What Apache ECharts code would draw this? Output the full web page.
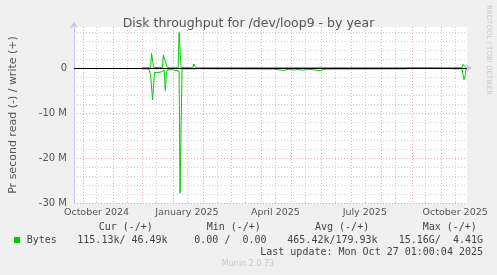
<!DOCTYPE html>
<html><head><meta charset="utf-8">
<script src="https://cdn.jsdelivr.net/npm/echarts@6/dist/echarts.min.js"></script>
<style>html,body{margin:0;padding:0;background:#f0f0f0}#c{width:497px;height:275px}</style>
</head><body><div id="c"></div>
<script>
// ---- data ----
const chartTitle = 'Disk throughput for /dev/loop9 - by year';
const yAxisTitle = 'Pr second read (-) / write (+)';
const endTimeStr = '2025-10-27T01:00:04Z';
const spanDays = 400;
const quarterLabels = ['October 2024', 'January 2025', 'April 2025', 'July 2025', 'October 2025'];
const quarterLabelDates = ['2024-10-15', '2025-01-15', '2025-04-15', '2025-07-15', '2025-10-15'];
const monthStarts = ['2024-10-01','2024-11-01','2024-12-01','2025-01-01','2025-02-01','2025-03-01','2025-04-01','2025-05-01','2025-06-01','2025-07-01','2025-08-01','2025-09-01','2025-10-01'];
const midMonths = ['2024-10-15','2024-11-15','2024-12-15','2025-01-15','2025-02-15','2025-03-15','2025-04-15','2025-05-15','2025-06-15','2025-07-15','2025-08-15','2025-09-15','2025-10-15'];
const yMajorTicks = [-30, -20, -10, 0];          // millions
const yMinorTicks = [-28,-26,-24,-22,-18,-16,-14,-12,-8,-6,-4,-2,2,4,6,8];
const yMin = -30, yMax = 9.1;                     // millions
// write (+), bytes/s in millions
const writeData = [
  ['2024-12-01', 0.05], ['2024-12-09', 0.05], ['2024-12-10', 3.3], ['2024-12-11', 3.3], ['2024-12-12', 0.1],
  ['2024-12-21', 0.1], ['2024-12-22', 2.9], ['2024-12-23', 2.5], ['2024-12-24', 1.4], ['2024-12-25', 0.8], ['2024-12-26', 0.05],
  ['2025-01-06', 0.05], ['2025-01-07', 7.9], ['2025-01-08', 7.9], ['2025-01-09', 0.1],
  ['2025-01-21', 0.05], ['2025-01-22', 0.9], ['2025-01-23', 0.8], ['2025-01-24', 0.05],
  ['2025-10-22', 0.05], ['2025-10-23', 0.8], ['2025-10-24', 1.0], ['2025-10-25', 0.3], ['2025-10-26', 0.05]
];
// read (-), bytes/s in millions
const readData = [
  ['2024-12-01', -0.2], ['2024-12-07', -0.2], ['2024-12-09', -1.5], ['2024-12-11', -7.1], ['2024-12-12', -6.8],
  ['2024-12-13', -1.0], ['2024-12-19', -0.95], ['2024-12-21', -0.6], ['2024-12-23', -0.5], ['2024-12-24', -5.0],
  ['2024-12-25', -1.5], ['2024-12-26', -0.4], ['2024-12-31', -0.4], ['2025-01-01', -0.7], ['2025-01-07', -0.7],
  ['2025-01-08', -27.8], ['2025-01-09', -27.8], ['2025-01-10', -0.2], ['2025-01-21', -0.2], ['2025-01-23', -0.5],
  ['2025-01-25', -0.15], ['2025-04-05', -0.25], ['2025-04-13', -0.25], ['2025-04-18', -0.4], ['2025-04-23', -0.55],
  ['2025-04-28', -0.3], ['2025-05-03', -0.45], ['2025-05-09', -0.35], ['2025-05-13', -0.5], ['2025-05-19', -0.3],
  ['2025-05-25', -0.45], ['2025-05-31', -0.6], ['2025-06-04', -0.25], ['2025-08-26', -0.2], ['2025-08-29', 0],
  ['2025-09-15', 0], ['2025-09-17', -0.2], ['2025-10-22', -0.2], ['2025-10-23', -1.5], ['2025-10-24', -2.6],
  ['2025-10-25', -1.8], ['2025-10-26', -0.3]
];
const legendHeaders = ['Cur (-/+)', 'Min (-/+)', 'Avg (-/+)', 'Max (-/+)'];
const legendName = 'Bytes';
const legendValues = ['115.13k/ 46.49k', '0.00 /  0.00', '465.42k/179.93k', '15.16G/  4.41G'];
const lastUpdate = 'Last update: Mon Oct 27 01:00:04 2025';
const footer = 'Munin 2.0.73';
const sideText = 'RRDTOOL / TOBI OETIKER';

// ---- build ----
const toTs = s => Date.parse(s.length <= 10 ? s + 'T00:00:00Z' : s);
const endTime = toTs(endTimeStr);
const startTime = endTime - spanDays * 86400000;
const M = 1e6;
const quarterTs = quarterLabelDates.map(toTs);
const axisColor = '#c4c4f4';
const gridGrey = '#cfcfcf';
const gridRed = '#eeaaaa';
const green = '#00cc00';

const chart = echarts.init(document.getElementById('c'), null, {renderer: 'canvas'});
const mono = '10px "DejaVu Sans Mono"';
const headerX = [98.7, 206.7, 315, 422.7];
const valueX = [77.3, 194.3, 287.3, 398.7];
const graphics = [];
legendHeaders.forEach((t, i) => graphics.push({type: 'text', x: headerX[i], y: 227.5, style: {text: t, font: mono, fill: '#444', textVerticalAlign: 'middle'}}));
graphics.push({type: 'rect', shape: {x: 14, y: 237, width: 6, height: 6}, style: {fill: green}});
graphics.push({type: 'text', x: 26.7, y: 240, style: {text: legendName, font: mono, fill: '#444', textVerticalAlign: 'middle'}});
legendValues.forEach((t, i) => graphics.push({type: 'text', x: valueX[i], y: 240, style: {text: t, font: mono, fill: '#444', textVerticalAlign: 'middle'}}));
graphics.push({type: 'text', x: 483, y: 252, style: {text: lastUpdate, font: mono, fill: '#444', textAlign: 'right', textVerticalAlign: 'middle'}});
graphics.push({type: 'text', x: 248, y: 264, style: {text: footer, font: '8px "DejaVu Sans"', fill: '#c8c8c8', textAlign: 'center', textVerticalAlign: 'middle'}});
graphics.push({type: 'text', x: 489, y: 5, rotation: -Math.PI / 2, style: {text: sideText, font: '7px "DejaVu Sans"', fill: '#c8c8c8', textAlign: 'left', textVerticalAlign: 'middle'}});

const xBase = {type: 'value', min: startTime, max: endTime, position: 'bottom', gridIndex: 0, scale: true};
chart.setOption({
  animation: false,
  backgroundColor: '#f0f0f0',
  title: {text: chartTitle, left: 'center', top: 12, textStyle: {fontFamily: 'DejaVu Sans', fontSize: 12.5, fontWeight: 'normal', color: '#555'}},
  grid: {left: 67, right: 30, top: 27, bottom: 72, show: true, backgroundColor: '#fff', borderWidth: 0},
  xAxis: [
    Object.assign({}, xBase, {
      axisLine: {show: true, lineStyle: {color: axisColor, width: 1}, symbol: ['none', 'arrow'], symbolSize: [6, 6], symbolOffset: [0, 5]},
      axisTick: {show: false, customValues: quarterTs},
      axisLabel: {customValues: quarterTs, margin: 5, fontFamily: 'DejaVu Sans', fontSize: 9.5, color: '#555',
        formatter: v => { const i = quarterTs.indexOf(v); return i >= 0 ? quarterLabels[i] : ''; }},
      splitLine: {show: false}
    }),
    Object.assign({}, xBase, {
      axisLine: {show: false}, axisLabel: {show: false},
      axisTick: {show: true, inside: true, length: 2, customValues: monthStarts.map(toTs), lineStyle: {color: gridRed}},
      splitLine: {show: true, lineStyle: {color: gridRed, width: 1, type: [1, 2]}}
    }),
    Object.assign({}, xBase, {
      axisLine: {show: false}, axisLabel: {show: false},
      axisTick: {show: true, inside: true, length: 2, customValues: midMonths.map(toTs), lineStyle: {color: gridGrey}},
      splitLine: {show: true, lineStyle: {color: gridGrey, width: 1, type: [1, 2]}}
    })
  ],
  yAxis: [
    {type: 'value', min: yMin * M, max: yMax * M, position: 'left', gridIndex: 0,
      axisLine: {show: false}, axisLabel: {show: false},
      axisTick: {show: false, customValues: yMinorTicks.map(v => v * M)},
      splitLine: {show: true, lineStyle: {color: gridGrey, width: 1, type: [1, 2]}}},
    {type: 'value', min: yMin * M, max: yMax * M, position: 'left', gridIndex: 0, z: 1,
      name: yAxisTitle, nameLocation: 'middle', nameGap: 55,
      nameTextStyle: {fontFamily: 'DejaVu Sans', fontSize: 11, color: '#555'},
      axisLine: {show: true, lineStyle: {color: axisColor, width: 1}, symbol: ['none', 'arrow'], symbolSize: [6, 6], symbolOffset: [0, 5]},
      axisTick: {show: false, customValues: yMajorTicks.map(v => v * M)},
      axisLabel: {customValues: yMajorTicks.map(v => v * M), margin: 7, fontFamily: 'DejaVu Sans', fontSize: 10, color: '#555',
        formatter: v => v === 0 ? '0' : (Math.round(v / M) + ' M')},
      splitLine: {show: true, lineStyle: {color: gridRed, width: 1, type: [1, 2]}}}
  ],
  series: [
    {type: 'line', xAxisIndex: 0, yAxisIndex: 1, symbol: 'none', z: 2,
      data: readData.map(d => [toTs(d[0]), d[1] * M]), lineStyle: {color: green, width: 1}},
    {type: 'line', xAxisIndex: 0, yAxisIndex: 1, symbol: 'none', z: 3,
      data: writeData.map(d => [toTs(d[0]), d[1] * M]), lineStyle: {color: green, width: 1},
      markLine: {silent: true, symbol: ['none', 'none'], label: {show: false}, lineStyle: {color: '#000', width: 1, type: 'solid'},
        data: [{yAxis: 0}]}}
  ],
  graphic: graphics
});
</script></body></html>
